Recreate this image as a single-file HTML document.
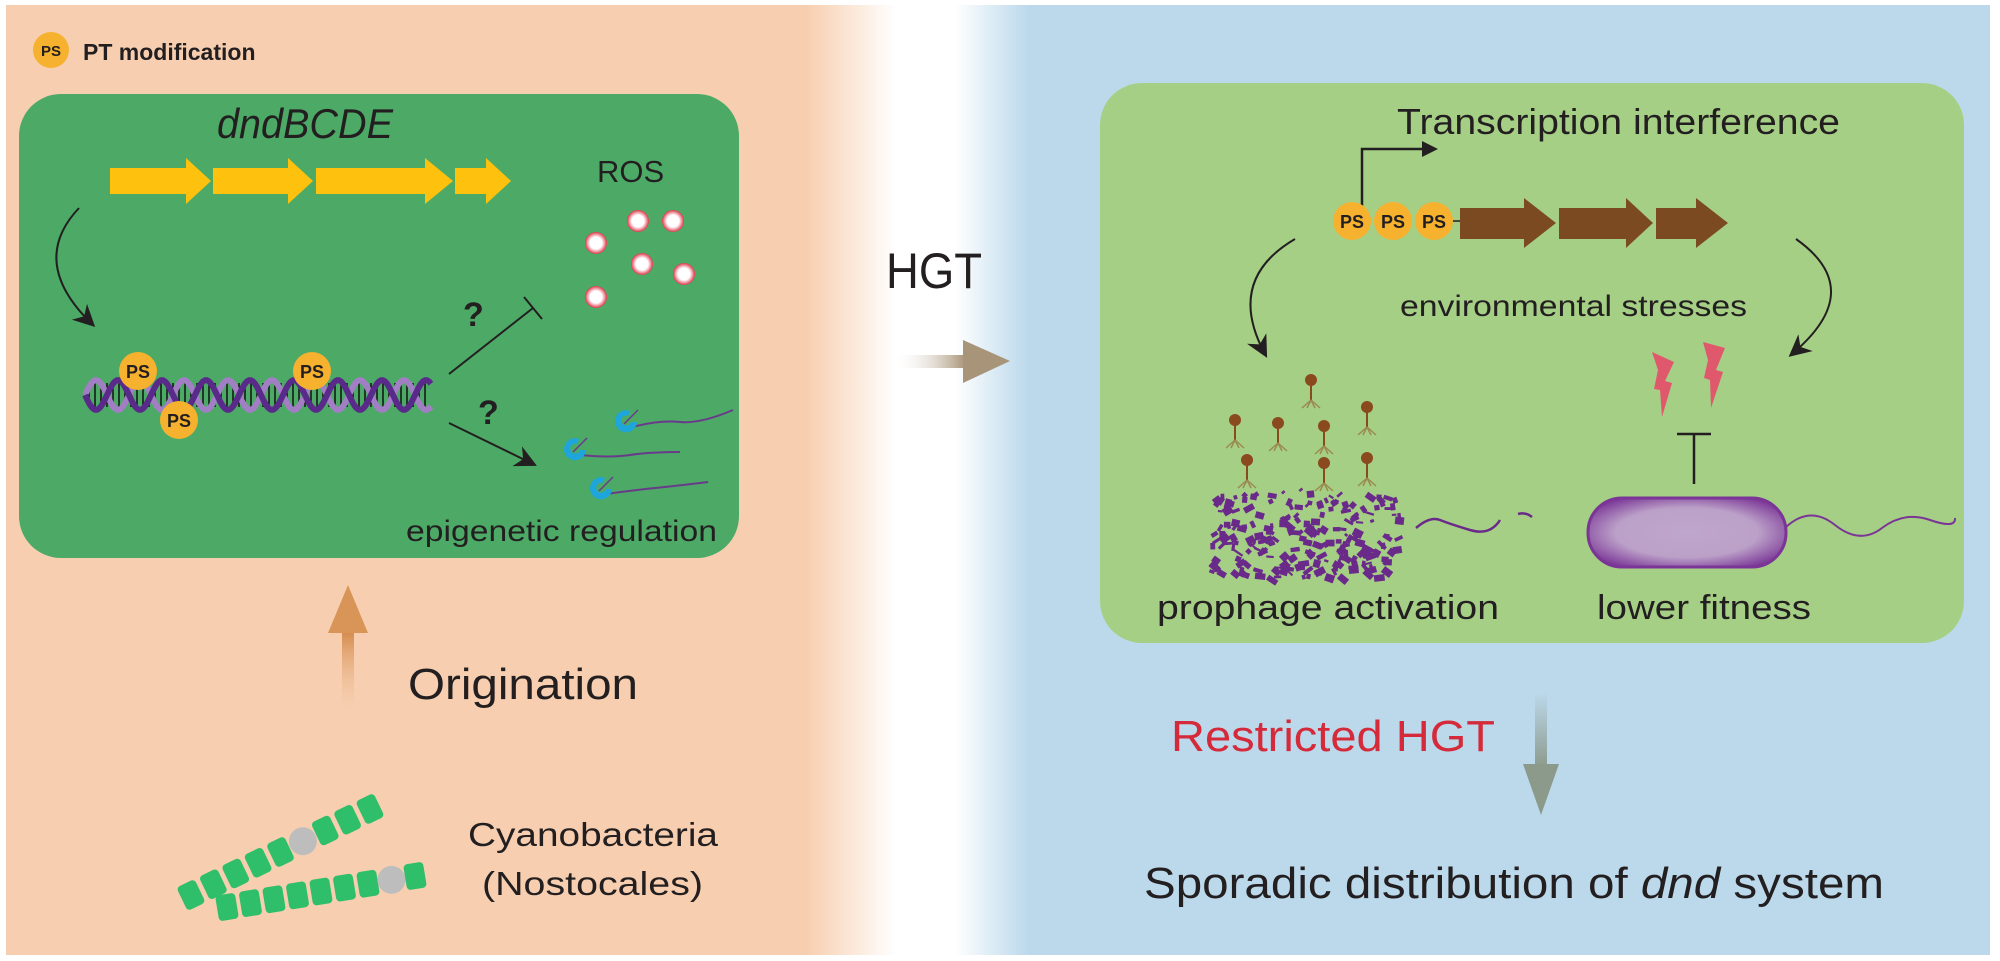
<!DOCTYPE html>
<html><head><meta charset="utf-8"><style>
html,body{margin:0;padding:0;background:#fff;}
svg{display:block;}
text{font-family:"Liberation Sans",Arial,sans-serif;fill:#231f20;}
</style></head><body>
<svg id="s" width="2000" height="961" viewBox="0 0 2000 961" xmlns="http://www.w3.org/2000/svg">
<defs>
<linearGradient id="peach" x1="0" x2="1" y1="0" y2="0">
<stop offset="0" stop-color="#f7cfb0"/><stop offset="0.9" stop-color="#f7cfb0"/><stop offset="1" stop-color="#f7cfb0" stop-opacity="0"/>
</linearGradient>
<linearGradient id="blue" x1="0" x2="1" y1="0" y2="0">
<stop offset="0" stop-color="#bcd9ec" stop-opacity="0"/><stop offset="0.07" stop-color="#bcd9ec"/><stop offset="1" stop-color="#bcd9ec"/>
</linearGradient>
<linearGradient id="orig" x1="0" x2="0" y1="0" y2="1">
<stop offset="0" stop-color="#d4894a"/><stop offset="1" stop-color="#f7cfb0" stop-opacity="0.2"/>
</linearGradient>
<linearGradient id="hgt" x1="0" x2="1" y1="0" y2="0">
<stop offset="0" stop-color="#ffffff" stop-opacity="0"/><stop offset="1" stop-color="#a89478"/>
</linearGradient>
<linearGradient id="rhgt" x1="0" x2="0" y1="0" y2="1">
<stop offset="0" stop-color="#bcd9ec"/><stop offset="1" stop-color="#8c9a8c"/>
</linearGradient>
<radialGradient id="ros"><stop offset="0" stop-color="#fff"/><stop offset="0.55" stop-color="#fff"/><stop offset="1" stop-color="#e0364a"/></radialGradient>
<radialGradient id="cellr" cx="0.5" cy="0.5" r="0.6">
<stop offset="0" stop-color="#bfa6cc"/><stop offset="0.6" stop-color="#bba0c8"/><stop offset="1" stop-color="#7a3596"/>
</radialGradient>
<marker id="ah2" viewBox="0 0 10 10" refX="8" refY="5" markerWidth="22" markerHeight="22" orient="auto" markerUnits="userSpaceOnUse"><path d="M0,0 L10,5 L0,10 L3,5 z" fill="#231f20"/></marker>
</defs>
<rect x="0" y="0" width="2000" height="961" fill="#fff"/>
<rect x="6" y="5" width="890" height="950" fill="url(#peach)"/>
<rect x="955" y="5" width="1035" height="950" fill="url(#blue)"/>

<!-- left box -->
<rect x="19" y="94" width="720" height="464" rx="42" fill="#4caa66"/>
<circle cx="51" cy="50" r="18" fill="#f6b12e"/><text x="51" y="56" font-size="15" font-weight="bold" text-anchor="middle">PS</text>
<text x="83" y="60" font-size="23" font-weight="bold">PT modification</text>
<text x="217" y="138" font-size="42" font-style="italic" textLength="176" lengthAdjust="spacingAndGlyphs">dndBCDE</text>
<g fill="#fec10e">
<polygon points="110,168 186,168 186,158 211,181 186,204 186,194 110,194"/>
<polygon points="213,168 288,168 288,158 313,181 288,204 288,194 213,194"/>
<polygon points="316,168 425,168 425,158 453,181 425,204 425,194 316,194"/>
<polygon points="455,168 486,168 486,158 511,181 486,204 486,194 455,194"/>
</g>
<text x="597" y="182" font-size="31">ROS</text>
<g fill="url(#ros)">
<circle cx="638" cy="221" r="11"/><circle cx="673" cy="221" r="11"/><circle cx="596" cy="243" r="11"/>
<circle cx="642" cy="264" r="11"/><circle cx="684" cy="274" r="11"/><circle cx="596" cy="297" r="11"/>
</g>
<path d="M79,208 Q28,262 92,324" fill="none" stroke="#231f20" stroke-width="2" marker-end="url(#ah2)"/>
<g id="dna"></g>
<g>
<circle cx="138" cy="371" r="19" fill="#f6b12e"/><text x="138" y="378" font-size="18" font-weight="bold" text-anchor="middle">PS</text>
<circle cx="312" cy="371" r="19" fill="#f6b12e"/><text x="312" y="378" font-size="18" font-weight="bold" text-anchor="middle">PS</text>
<circle cx="179" cy="420" r="19" fill="#f6b12e"/><text x="179" y="427" font-size="18" font-weight="bold" text-anchor="middle">PS</text>
</g>
<line x1="449" y1="374" x2="533" y2="308" stroke="#231f20" stroke-width="2"/>
<line x1="524" y1="297" x2="542" y2="319" stroke="#231f20" stroke-width="2"/>
<text x="463" y="326" font-size="34" font-weight="bold">?</text>
<text x="478" y="424" font-size="34" font-weight="bold">?</text>
<line x1="449" y1="423" x2="533" y2="464" stroke="#231f20" stroke-width="2" marker-end="url(#ah2)"/>
<g fill="none" stroke="#6a3a8a" stroke-width="2">
<path d="M632,427 Q660,420 680,422 T733,410"/>
<path d="M580,455 Q610,458 630,455 T680,452"/>
<path d="M606,494 Q635,490 655,488 T708,482"/>
</g>
<g id="ribo"></g>
<text x="406" y="541" font-size="30" textLength="311" lengthAdjust="spacingAndGlyphs">epigenetic regulation</text>

<!-- origination -->
<rect x="342" y="630" width="12" height="82" fill="url(#orig)"/>
<polygon points="348,585 368,633 328,633" fill="#d99558"/>
<text x="408" y="699" font-size="44" textLength="230" lengthAdjust="spacingAndGlyphs">Origination</text>
<text x="468" y="846" font-size="33" textLength="250" lengthAdjust="spacingAndGlyphs">Cyanobacteria</text>
<text x="482" y="895" font-size="33" textLength="221" lengthAdjust="spacingAndGlyphs">(Nostocales)</text>
<g id="cyano"></g>

<!-- HGT -->
<text x="886" y="288" font-size="50" textLength="96" lengthAdjust="spacingAndGlyphs">HGT</text>
<rect x="893" y="355" width="72" height="13" fill="url(#hgt)"/>
<polygon points="963,340 1010,361 963,383" fill="#a89478"/>

<!-- right box -->
<rect x="1100" y="83" width="864" height="560" rx="42" fill="#a6cf86"/>
<text x="1397" y="134" font-size="36" textLength="443" lengthAdjust="spacingAndGlyphs">Transcription interference</text>
<path d="M1362,212 L1362,149 L1425,149" fill="none" stroke="#231f20" stroke-width="2.5"/>
<polygon points="1422,141 1438,149 1422,157" fill="#231f20"/>
<line x1="1440" y1="221" x2="1462" y2="221" stroke="#231f20" stroke-width="1.5"/>
<g fill="#f6b12e"><ellipse cx="1352" cy="221" rx="19" ry="19"/><ellipse cx="1393" cy="221" rx="19" ry="19"/><ellipse cx="1434" cy="221" rx="19" ry="19"/></g>
<g font-size="18" font-weight="bold" text-anchor="middle"><text x="1352" y="228">PS</text><text x="1393" y="228">PS</text><text x="1434" y="228">PS</text></g>
<g fill="#7b4a21">
<polygon points="1460,208 1524,208 1524,198 1556,223 1524,248 1524,239 1460,239"/>
<polygon points="1559,208 1626,208 1626,198 1653,223 1626,248 1626,239 1559,239"/>
<polygon points="1656,208 1696,208 1696,198 1728,223 1696,248 1696,239 1656,239"/>
</g>
<path d="M1295,239 Q1225,280 1265,354" fill="none" stroke="#231f20" stroke-width="2" marker-end="url(#ah2)"/>
<path d="M1796,239 Q1868,290 1792,354" fill="none" stroke="#231f20" stroke-width="2" marker-end="url(#ah2)"/>
<text x="1400" y="316" font-size="30" textLength="347" lengthAdjust="spacingAndGlyphs">environmental stresses</text>
<g fill="#e0586c">
<polygon points="1652,352 1674,362 1665,381 1672,383 1662,417 1660,390 1654,389 1658,370"/>
<polygon points="1703,342 1725,348 1716,370 1723,372 1711,408 1710,380 1704,378 1708,360"/>
</g>
<line x1="1694" y1="434" x2="1694" y2="484" stroke="#231f20" stroke-width="2.5"/>
<line x1="1677" y1="434" x2="1711" y2="434" stroke="#231f20" stroke-width="2.5"/>
<g id="phages"></g>
<g id="debris"></g>
<path d="M1416,528 Q1430,516 1440,520 T1470,530 T1500,520" fill="none" stroke="#6a2a8a" stroke-width="2.5"/>
<path d="M1518,514 Q1526,512 1532,517" fill="none" stroke="#6a2a8a" stroke-width="2.5"/>
<path d="M1786,527 Q1810,505 1835,525 T1882,528 T1930,520 T1955,518" fill="none" stroke="#7a3596" stroke-width="2"/>
<rect x="1588" y="498" width="198" height="69" rx="34" fill="url(#cellr)" stroke="#7a3596" stroke-width="3"/>
<text x="1157" y="619" font-size="34" textLength="342" lengthAdjust="spacingAndGlyphs">prophage activation</text>
<text x="1597" y="619" font-size="34" textLength="214" lengthAdjust="spacingAndGlyphs">lower fitness</text>

<text x="1171" y="751" font-size="44" fill="#d42a3a" style="fill:#d42a3a" textLength="324" lengthAdjust="spacingAndGlyphs">Restricted HGT</text>
<rect x="1535" y="692" width="12" height="76" fill="url(#rhgt)"/>
<polygon points="1523,764 1559,764 1541,815" fill="#8c9a8c"/>
<text x="1144" y="898" font-size="44" textLength="740" lengthAdjust="spacingAndGlyphs">Sporadic distribution of <tspan font-style="italic">dnd</tspan> system</text>
</svg>
<script>
var NS="http://www.w3.org/2000/svg";
function el(p,t,a){var e=document.createElementNS(NS,t);for(var k in a)e.setAttribute(k,a[k]);p.appendChild(e);return e;}
var d=document.getElementById('dna');
var x0=85,x1=431,cy=395,A=15,per=44;
function wave(ph){var s="";for(var x=x0;x<=x1;x+=2){var y=cy+A*Math.sin((x-x0)/per*2*Math.PI+ph);s+=(x==x0?"M":"L")+x+","+y.toFixed(1);}return s;}
for(var x=x0+4;x<x1;x+=6){el(d,'line',{x1:x,y1:cy-12,x2:x,y2:cy+12,stroke:'#111','stroke-width':1.5});}
el(d,'path',{d:wave(Math.PI),fill:'none',stroke:'#a27fc4','stroke-width':6});
el(d,'path',{d:wave(0),fill:'none',stroke:'#5a2a8a','stroke-width':6});
// ribosomes (C shapes)
var rb=document.getElementById('ribo');
[[626,421],[575,449],[601,488]].forEach(function(q){var x=q[0],y=q[1];
el(rb,'path',{d:'M'+(x+4)+','+(y-10)+' A11,11 0 1 0 '+(x+11)+','+(y+1)+' L'+(x+5)+','+(y+1)+' A5,5 0 1 1 '+(x+2)+','+(y-5)+' Z',fill:'#1ea6dc'});
el(rb,'line',{x1:x-2,y1:y+3,x2:x+12,y2:y-11,stroke:'#6a3a8a','stroke-width':1.5});});
var c=document.getElementById('cyano');
function fil(xa,ya,xb,yb,n,hi){var dx=(xb-xa)/(n-1),dy=(yb-ya)/(n-1),ang=Math.atan2(yb-ya,xb-xa)*180/Math.PI;
for(var i=0;i<n;i++){var x=xa+dx*i,y=ya+dy*i;
if(i==hi){el(c,'circle',{cx:x,cy:y,r:14,fill:'#bdbdbd'});}
else el(c,'rect',{x:x-10,y:y-13,width:20,height:26,rx:4,fill:'#2fbf6a',transform:'rotate('+ang+' '+x+' '+y+')'});}}
fil(191,895,370,809,9,5);
fil(227,907,415,876,9,7);
var p=document.getElementById('phages');
[[1311,380],[1235,420],[1278,423],[1324,426],[1367,407],[1247,460],[1324,463],[1367,458]].forEach(function(q){
var x=q[0],y=q[1];el(p,'circle',{cx:x,cy:y,r:6,fill:'#8a4a1e'});
el(p,'line',{x1:x,y1:y+5,x2:x,y2:y+20,stroke:'#8a4a1e','stroke-width':2});
[-9,-4,4,9].forEach(function(o){el(p,'line',{x1:x,y1:y+20,x2:x+o,y2:y+28,stroke:'#9a8a50','stroke-width':1.5});});});
var g=document.getElementById('debris');var seed=7;function r(){seed=(seed*16807)%2147483647;return seed/2147483647;}
for(var i=0;i<230;i++){var x=1210+r()*190,y=490+r()*86;
var dxl=(x-1305)/97,dyl=(y-533)/44;if(dxl*dxl*0.5+dyl*dyl>1.2)continue;
var w=3+r()*8,h=2+r()*6;el(g,'rect',{x:x,y:y,width:w,height:h,fill:'#6a2a8a',transform:'rotate('+(r()*90-45)+' '+x+' '+y+')'});}
</script>
</body></html>
